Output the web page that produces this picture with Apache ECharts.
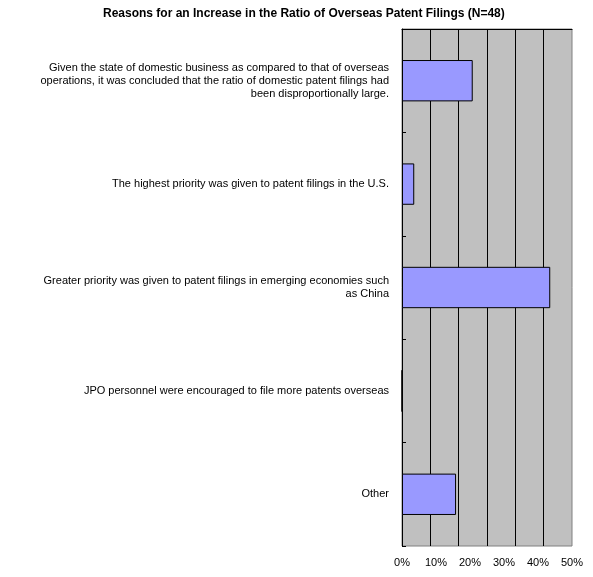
<!DOCTYPE html>
<html>
<head>
<meta charset="utf-8">
<script src="https://cdn.jsdelivr.net/npm/echarts@6/dist/echarts.min.js"></script>
<style>
html, body { margin: 0; padding: 0; background: #fff; }
#main { width: 593px; height: 577px; }
</style>
</head>
<body>
<div id="main"></div>
<script>
// 分类与数值
var categories = [
    'Given the state of domestic business as compared to that of overseas\noperations, it was concluded that the ratio of domestic patent filings had\nbeen disproportionally large.',
    'The highest priority was given to patent filings in the U.S.',
    'Greater priority was given to patent filings in emerging economies such\nas China',
    'JPO personnel were encouraged to file more patents overseas',
    'Other'
];
var values = [20.8, 3.6, 43.6, 0, 15.9];
var xTicks = { min: 0, max: 50, step: 10 };
// 原图网格线为6等分（与刻度标签不对齐）
var gridTicks = { min: 0, max: 6, step: 1 };

var chart = echarts.init(document.getElementById('main'));
var option = {
    animation: false,
    title: {
        text: 'Reasons for an Increase in the Ratio of Overseas Patent Filings (N=48)',
        left: 98,
        top: 3,
        textStyle: { fontFamily: 'Liberation Sans', fontSize: 12, fontWeight: 'bold', color: '#000' }
    },
    grid: {
        left: 402, right: 21, top: 29, bottom: 31,
        show: true,
        backgroundColor: '#c0c0c0',
        borderColor: '#808080',
        borderWidth: 1
    },
    xAxis: [{
        type: 'value',
        min: xTicks.min,
        max: xTicks.max,
        interval: xTicks.step,
        position: 'bottom',
        axisLine: { show: false },
        axisTick: { show: false },
        splitLine: { show: false },
        axisLabel: {
            formatter: '{value}%',
            margin: 11,
            fontFamily: 'Liberation Sans', fontSize: 11, color: '#000'
        }
    }, {
        // 上边框黑线 + 网格线
        type: 'value',
        min: gridTicks.min,
        max: gridTicks.max,
        interval: gridTicks.step,
        position: 'top',
        axisLine: { show: true, lineStyle: { color: '#000' } },
        axisTick: { show: false },
        axisLabel: { show: false },
        splitLine: { show: true, showMaxLine: false, lineStyle: { color: '#000', width: 1 } }
    }],
    yAxis: {
        type: 'category',
        inverse: true,
        data: categories,
        axisLine: { show: true, lineStyle: { color: '#000', width: 1 } },
        axisTick: { show: true, inside: true, length: 4, lineStyle: { color: '#000' } },
        axisLabel: {
            margin: 13,
            align: 'right',
            lineHeight: 13,
            fontFamily: 'Liberation Sans', fontSize: 11, color: '#000'
        }
    },
    series: [{
        type: 'bar',
        xAxisIndex: 0,
        data: values,
        barCategoryGap: '60%',
        itemStyle: { color: '#9999ff', borderColor: '#000', borderWidth: 1 }
    }]
};
chart.setOption(option);
</script>
</body>
</html>
